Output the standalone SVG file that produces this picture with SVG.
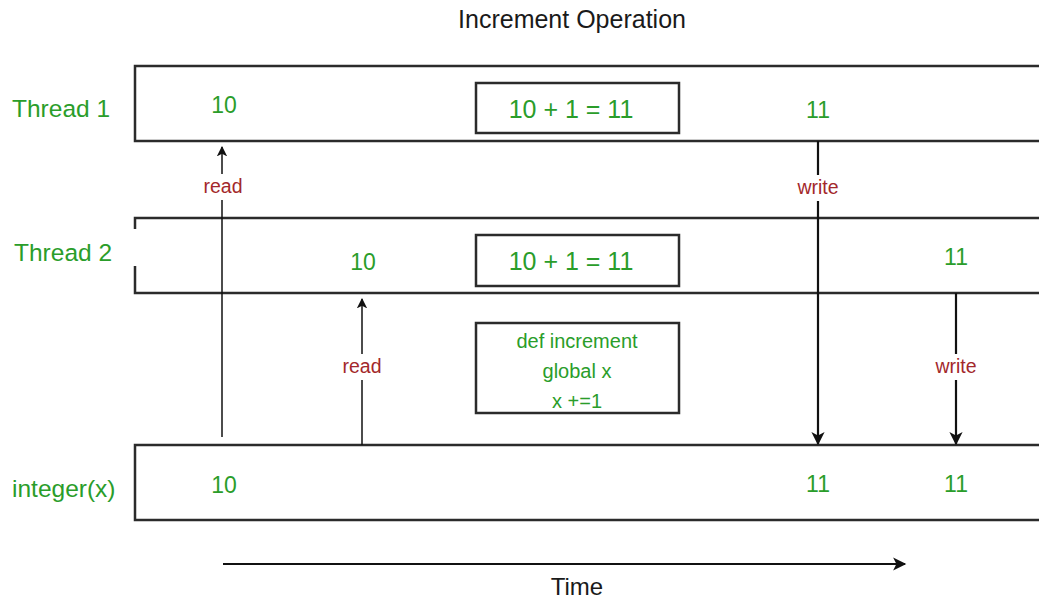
<svg xmlns="http://www.w3.org/2000/svg" width="1039" height="600" viewBox="0 0 1039 600">
  <style>
    .lane { fill: none; stroke: #2b2b2b; stroke-width: 2.5; }
    .box { fill: #ffffff; stroke: #2b2b2b; stroke-width: 2.5; }
    .lbl { font-family: "Liberation Sans", Arial, sans-serif; font-size: 24.5px; fill: #2a9d2a; }
    .val { font-family: "Liberation Sans", Arial, sans-serif; font-size: 23px; fill: #2a9d2a; text-anchor: middle; }
    .code { font-family: "Liberation Sans", Arial, sans-serif; font-size: 20px; fill: #2a9d2a; text-anchor: middle; }
    .op { font-family: "Liberation Sans", Arial, sans-serif; font-size: 19.5px; fill: #a3282b; text-anchor: middle; }
    .title { font-family: "Liberation Sans", Arial, sans-serif; font-size: 25px; fill: #1a1a1a; text-anchor: middle; }
    .thin { stroke: #111; stroke-width: 1.5; fill: none; }
    .thick { stroke: #111; stroke-width: 2.2; fill: none; }
    .opbg { fill: #ffffff; }
  </style>
  <defs>
    <marker id="headSmall" viewBox="0 0 10 10" refX="9" refY="5" markerWidth="7" markerHeight="7" markerUnits="strokeWidth" orient="auto">
      <path d="M0,0 L10,5 L0,10 L2.5,5 z" fill="#111"/>
    </marker>
    <marker id="headBig" viewBox="0 0 10 10" refX="9" refY="5" markerWidth="6.5" markerHeight="6" markerUnits="strokeWidth" orient="auto">
      <path d="M0,0 L10,5 L0,10 L2.5,5 z" fill="#111"/>
    </marker>
  </defs>

  <rect width="1039" height="600" fill="#ffffff"/>

  <text class="title" x="572" y="28">Increment Operation</text>

  <!-- lanes -->
  <g id="thread1">
    <rect class="lane" x="135" y="66" width="1000" height="75"/>
    <text class="lbl" x="12" y="117">Thread 1</text>
    <text class="val" x="224" y="113">10</text>
    <text class="val" x="818" y="118">11</text>
  </g>
  <g id="thread2">
    <path class="lane" d="M1045,218 H135 V229 M135,266 V293 H1045"/>
    <text class="lbl" x="14" y="261">Thread 2</text>
    <text class="val" x="363" y="270">10</text>
    <text class="val" x="956" y="265">11</text>
  </g>
  <g id="integer-x">
    <rect class="lane" x="135" y="445" width="1000" height="75"/>
    <text class="lbl" x="12" y="497">integer(x)</text>
    <text class="val" x="224" y="493">10</text>
    <text class="val" x="818" y="492">11</text>
    <text class="val" x="956" y="492">11</text>
  </g>

  <!-- connectors -->
  <g id="connectors">
    <line class="thin" x1="222" y1="437" x2="222" y2="147" marker-end="url(#headSmall)"/>
    <line class="thin" x1="362" y1="445" x2="362" y2="299" marker-end="url(#headSmall)"/>
    <line class="thick" x1="818" y1="141" x2="818" y2="444" marker-end="url(#headBig)"/>
    <line class="thick" x1="956" y1="293" x2="956" y2="444" marker-end="url(#headBig)"/>
    <line class="thick" x1="223" y1="564" x2="905" y2="564" marker-end="url(#headBig)"/>

    <rect class="opbg" x="200" y="174" width="46" height="26"/>
    <text class="op" x="223" y="193">read</text>
    <rect class="opbg" x="339" y="354" width="46" height="26"/>
    <text class="op" x="362" y="373">read</text>
    <rect class="opbg" x="794" y="175" width="48" height="26"/>
    <text class="op" x="818" y="194">write</text>
    <rect class="opbg" x="932" y="354" width="48" height="26"/>
    <text class="op" x="956" y="373">write</text>
  </g>

  <!-- computation boxes -->
  <g id="compute1">
    <rect class="box" x="476" y="83" width="203" height="50"/>
    <text class="val" x="571" y="118" style="font-size:25px">10 + 1 = 11</text>
  </g>
  <g id="compute2">
    <rect class="box" x="476" y="235" width="203" height="51"/>
    <text class="val" x="571" y="270" style="font-size:25px">10 + 1 = 11</text>
  </g>
  <g id="code">
    <rect class="box" x="476" y="323" width="203" height="90"/>
    <text class="code" x="577" y="348">def increment</text>
    <text class="code" x="577" y="378">global x</text>
    <text class="code" x="577" y="408">x +=1</text>
  </g>

  <text class="title" x="577" y="595" style="font-size:24px">Time</text>
</svg>
